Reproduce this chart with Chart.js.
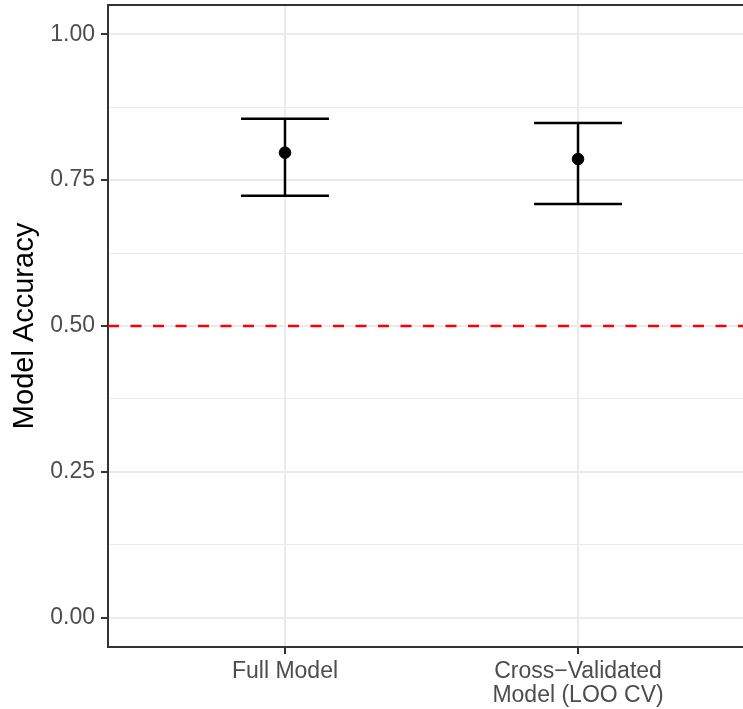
<!DOCTYPE html>
<html>
<head>
<meta charset="utf-8">
<script src="https://cdn.jsdelivr.net/npm/chart.js@4/dist/chart.umd.min.js"></script>
<style>
  html, body { margin: 0; padding: 0; background: #fff; }
  #wrap { width: 743px; height: 709px; position: relative; }
</style>
</head>
<body>
<div id="wrap"><canvas id="c" width="743" height="709"></canvas></div>
<script>
// ---- data ----
const categories = ["Full Model", ["Cross\u2212Validated", "Model (LOO CV)"]];
const accuracy = [0.797, 0.786];
const lowerCI = [0.723, 0.709];
const upperCI = [0.855, 0.848];
const chanceLevel = 0.5;
const yMajorTicks = [0, 0.25, 0.5, 0.75, 1.0];
const yMinorTicks = [0.125, 0.375, 0.625, 0.875];
const yTitle = "Model Accuracy";

// ---- layout / style ----
const X_MIN = 0.396, X_MAX = 2.563;
const CAP = 0.15;
const FONT = "'Liberation Sans', Arial, Helvetica, sans-serif";

const datasets = [];
accuracy.forEach((v, i) => {
  const c = i + 1;
  const lineStyle = { type: 'scatter', showLine: true, borderColor: '#000', borderWidth: 2.5,
    pointRadius: 0, pointHoverRadius: 0, order: 2 };
  datasets.push(Object.assign({ data: [{ x: c, y: lowerCI[i] }, { x: c, y: upperCI[i] }] }, lineStyle));
  datasets.push(Object.assign({ data: [{ x: c - CAP, y: upperCI[i] }, { x: c + CAP, y: upperCI[i] }] }, lineStyle));
  datasets.push(Object.assign({ data: [{ x: c - CAP, y: lowerCI[i] }, { x: c + CAP, y: lowerCI[i] }] }, lineStyle));
});
datasets.push({
  type: 'scatter',
  data: accuracy.map((v, i) => ({ x: i + 1, y: v })),
  backgroundColor: '#000', borderColor: '#000', pointRadius: 5.8, pointHoverRadius: 5.8, order: 1
});
datasets.push({
  type: 'scatter', showLine: true,
  data: [{ x: X_MIN, y: chanceLevel }, { x: X_MAX, y: chanceLevel }],
  borderColor: '#ff0000', borderWidth: 2.5, borderDash: [11, 11.5],
  pointRadius: 0, pointHoverRadius: 0, order: 3
});

const topBorder = {
  id: 'topBorder',
  afterDraw(chart) {
    const { ctx, chartArea } = chart;
    ctx.save();
    ctx.strokeStyle = '#333333';
    ctx.lineWidth = 2;
    ctx.beginPath();
    ctx.moveTo(chartArea.left - 1, chartArea.top);
    ctx.lineTo(chartArea.right + 2, chartArea.top);
    ctx.stroke();
    ctx.restore();
  }
};

new Chart(document.getElementById('c'), {
  type: 'scatter',
  data: { datasets },
  plugins: [topBorder],
  options: {
    responsive: false,
    animation: false,
    layout: { autoPadding: false, padding: { top: 5, right: 0, left: 0, bottom: 0 } },
    plugins: { legend: { display: false }, tooltip: { enabled: false } },
    scales: {
      x: {
        type: 'linear', min: X_MIN, max: X_MAX,
        afterBuildTicks: (s) => { s.ticks = categories.map((_, i) => ({ value: i + 1 })); },
        afterFit: (s) => { s.height = 62; s.paddingLeft = 0; s.paddingRight = 0; },
        ticks: {
          autoSkip: false, maxRotation: 0,
          color: '#4d4d4d', padding: 6,
          font: { family: FONT, size: 23, lineHeight: 1.04 },
          callback: (v) => categories[Math.round(v) - 1]
        },
        grid: { color: '#ebebeb', lineWidth: 2, tickLength: 7, tickColor: '#333333', tickWidth: 2 },
        border: { display: true, color: '#333333', width: 2 }
      },
      y: {
        type: 'linear', min: -0.05, max: 1.05,
        afterBuildTicks: (s) => {
          s.ticks = yMajorTicks.concat(yMinorTicks).sort((a, b) => a - b).map(v => ({ value: v }));
        },
        afterFit: (s) => { s.width = 108; s.paddingTop = 0; s.paddingBottom = 0; },
        ticks: {
          autoSkip: false, color: '#4d4d4d', padding: 6,
          font: { family: FONT, size: 23 },
          callback: (v) => yMajorTicks.includes(v) ? v.toFixed(2) : ''
        },
        grid: {
          color: '#ebebeb',
          lineWidth: (ctx) => yMajorTicks.includes(ctx.tick && ctx.tick.value) ? 2 : 1,
          tickLength: 7,
          tickColor: (ctx) => yMajorTicks.includes(ctx.tick && ctx.tick.value) ? '#333333' : 'rgba(0,0,0,0)',
          tickWidth: 2
        },
        border: { display: true, color: '#333333', width: 2 },
        title: { display: true, text: yTitle, color: '#000', padding: { top: 8, bottom: 0 },
          font: { family: FONT, size: 29 } }
      }
    }
  }
});
</script>
</body>
</html>
